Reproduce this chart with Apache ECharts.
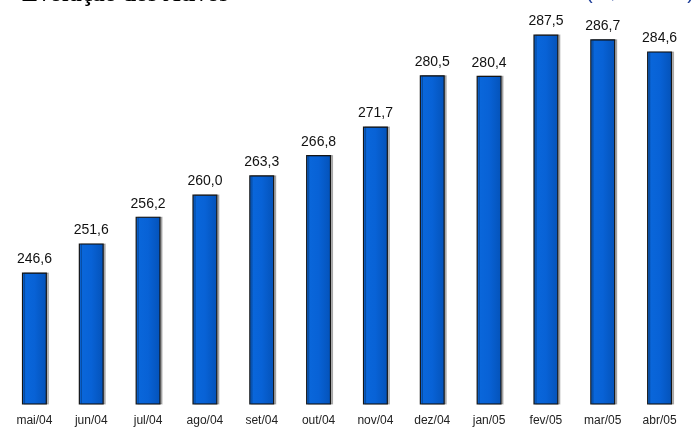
<!DOCTYPE html>
<html>
<head>
<meta charset="utf-8">
<script src="https://cdn.jsdelivr.net/npm/echarts@6/dist/echarts.min.js"></script>
<style>
  html, body { margin: 0; padding: 0; background: #fff; }
  #chart { width: 697px; height: 435px; }
</style>
</head>
<body>
<div id="chart"></div>
<script>
  // Evolução dos ativos (R$ bilhões)
  var months = ['mai/04', 'jun/04', 'jul/04', 'ago/04', 'set/04', 'out/04', 'nov/04', 'dez/04', 'jan/05', 'fev/05', 'mar/05', 'abr/05']
  var ativos = [246.6, 251.6, 256.2, 260.0, 263.3, 266.8, 271.7, 280.5, 280.4, 287.5, 286.7, 284.6]

  var chart = echarts.init(document.getElementById('chart'))
  chart.setOption({
    animation: false,
    graphic: [
      {
        type: 'text',
        left: 22,
        top: -17,
        style: {
          text: 'Evolução dos Ativos',
          font: 'bold 24px "Liberation Serif", serif',
          fill: '#000'
        }
      },
      {
        type: 'text',
        left: 586,
        top: -17,
        style: {
          text: '(R$ bilhões)',
          font: '20px "Liberation Sans", Arial, sans-serif',
          fill: '#1f3f99'
        }
      }
    ],
    grid: {
      left: 6,
      right: 9,
      top: 20,
      bottom: 31
    },
    xAxis: {
      type: 'category',
      data: months,
      axisLine: { show: false },
      axisTick: { show: false },
      axisLabel: {
        margin: 11,
        color: '#222',
        fontSize: 12,
        fontFamily: '"Liberation Sans", Arial, sans-serif'
      }
    },
    yAxis: {
      type: 'value',
      min: 224,
      max: 290,
      show: false,
      splitLine: { show: false }
    },
    series: [{
      type: 'bar',
      data: ativos,
      barWidth: 25,
      itemStyle: {
        color: {
          type: 'linear',
          x: 0, y: 0, x2: 1, y2: 0,
          colorStops: [
            { offset: 0, color: '#0a68dc' },
            { offset: 0.5, color: '#0862d6' },
            { offset: 1, color: '#0452b8' }
          ]
        },
        borderColor: '#151515',
        borderWidth: 1.2,
        shadowColor: 'rgba(0,0,0,0.25)',
        shadowOffsetX: 2,
        shadowOffsetY: 0,
        shadowBlur: 0
      },
      label: {
        show: true,
        position: 'top',
        distance: 6,
        color: '#111',
        fontSize: 14,
        fontFamily: '"Liberation Sans", Arial, sans-serif',
        formatter: function (p) {
          return p.value.toFixed(1).replace('.', ',')
        }
      }
    }]
  })
</script>
</body>
</html>
